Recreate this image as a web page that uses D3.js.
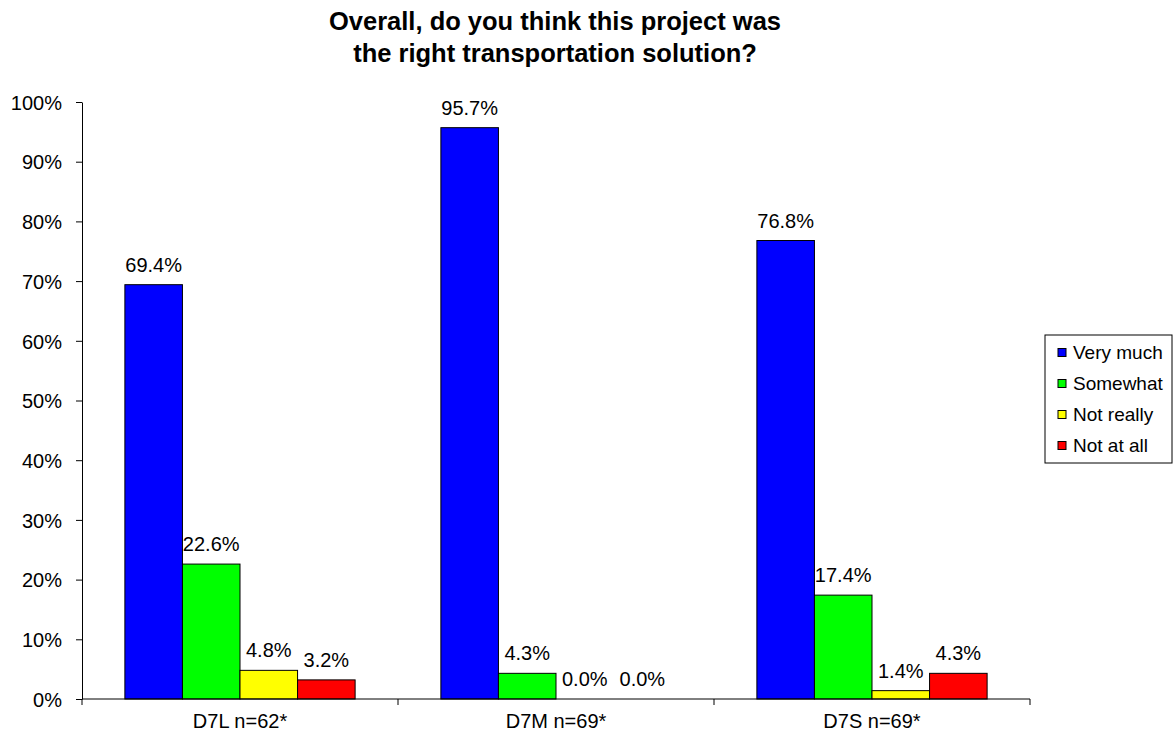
<!DOCTYPE html>
<html>
<head>
<meta charset="utf-8">
<script src="https://cdn.jsdelivr.net/npm/d3@7"></script>
<style>
  html, body { margin: 0; padding: 0; background: #fff; }
  svg { display: block; font-family: Arial, "Liberation Sans", sans-serif; }
</style>
</head>
<body>
<svg id="chart" width="1173" height="735"></svg>
<script>
// Survey groups along the x axis
const categories = ["D7L n=62*", "D7M n=69*", "D7S n=69*"];
// Answer options (series) and their fill colours
const seriesNames = ["Very much", "Somewhat", "Not really", "Not at all"];
const seriesColors = ["#0000ff", "#00ff00", "#ffff00", "#ff0000"];
// Percentages per series, one value per group
const veryMuch  = [69.4, 95.7, 76.8];
const somewhat  = [22.6, 4.3, 17.4];
const notReally = [4.8, 0.0, 1.4];
const notAtAll  = [3.2, 0.0, 4.3];
const seriesValues = [veryMuch, somewhat, notReally, notAtAll];
// Y axis ticks
const yTicks = [0, 10, 20, 30, 40, 50, 60, 70, 80, 90, 100];

const titleLines = ["Overall, do you think this project was", "the right transportation solution?"];

const svg = d3.select("#chart");
const plot = { left: 82, right: 1030, top: 102, bottom: 699 };
const labelSize = 20;

const x0 = d3.scaleBand().domain(categories).range([plot.left, plot.right]).padding(0);
const x1 = d3.scaleBand().domain(seriesNames).range([0, x0.bandwidth()])
  .paddingInner(0).paddingOuter(0.745);
const y = d3.scaleLinear().domain([0, 100]).range([plot.bottom, plot.top]);
const color = d3.scaleOrdinal().domain(seriesNames).range(seriesColors);

// Title
svg.append("g").selectAll("text").data(titleLines).join("text")
  .attr("x", 555).attr("y", (d, i) => 30 + i * 32)
  .attr("text-anchor", "middle")
  .attr("font-size", 25.5).attr("font-weight", "bold").attr("fill", "#000")
  .text(d => d);

// Bars
const rows = [];
categories.forEach((c, ci) => {
  seriesNames.forEach((s, si) => rows.push({ cat: c, series: s, value: seriesValues[si][ci] }));
});

svg.append("g").selectAll("rect").data(rows).join("rect")
  .attr("x", d => x0(d.cat) + x1(d.series))
  .attr("y", d => y(d.value))
  .attr("width", x1.bandwidth())
  .attr("height", d => y(0) - y(d.value))
  .attr("fill", d => color(d.series))
  .attr("stroke", "#000").attr("stroke-width", 1);

// Value labels above each bar
svg.append("g").selectAll("text").data(rows).join("text")
  .attr("x", d => x0(d.cat) + x1(d.series) + x1.bandwidth() / 2)
  .attr("y", d => y(d.value) - 13)
  .attr("text-anchor", "middle")
  .attr("font-size", labelSize).attr("fill", "#000")
  .text(d => d.value.toFixed(1) + "%");

// Y axis
const yAxis = svg.append("g").attr("transform", `translate(${plot.left},0)`)
  .call(d3.axisLeft(y).tickValues(yTicks).tickFormat(d => d + "%").tickSize(6).tickSizeOuter(0));
yAxis.select(".domain").attr("stroke", "#000");
yAxis.selectAll(".tick line").attr("stroke", "#000");
yAxis.selectAll(".tick text").attr("font-size", labelSize).attr("fill", "#000")
  .attr("x", -20).attr("dy", "0.36em").attr("font-family", "Arial, 'Liberation Sans', sans-serif");

// X axis with ticks at group boundaries
const xAxis = svg.append("g").attr("transform", `translate(0,${plot.bottom})`);
xAxis.append("line").attr("x1", plot.left).attr("x2", plot.right)
  .attr("stroke", "#000");
const boundaries = categories.map(c => x0(c)).concat([x0(categories[categories.length - 1]) + x0.bandwidth()]);
xAxis.selectAll("line.tk").data(boundaries).join("line").attr("class", "tk")
  .attr("x1", d => d).attr("x2", d => d).attr("y1", 0).attr("y2", 6)
  .attr("stroke", "#000");
xAxis.selectAll("text").data(categories).join("text")
  .attr("x", d => x0(d) + x0.bandwidth() / 2).attr("y", 29)
  .attr("text-anchor", "middle").attr("font-size", labelSize).attr("fill", "#000")
  .text(d => d);

// Legend
const legend = svg.append("g").attr("transform", "translate(1045,335)");
legend.append("rect").attr("width", 127).attr("height", 128)
  .attr("fill", "#fff").attr("stroke", "#000").attr("stroke-width", 1);
const items = legend.selectAll("g.item").data(seriesNames).join("g").attr("class", "item")
  .attr("transform", (d, i) => `translate(0,${17.5 + i * 31})`);
items.append("rect").attr("x", 13).attr("y", -4).attr("width", 8).attr("height", 8)
  .attr("fill", d => color(d)).attr("stroke", "#000").attr("stroke-width", 1);
items.append("text").attr("x", 28).attr("y", 0).attr("dy", "0.36em")
  .attr("font-size", 19).attr("fill", "#000").text(d => d);
</script>
</body>
</html>
